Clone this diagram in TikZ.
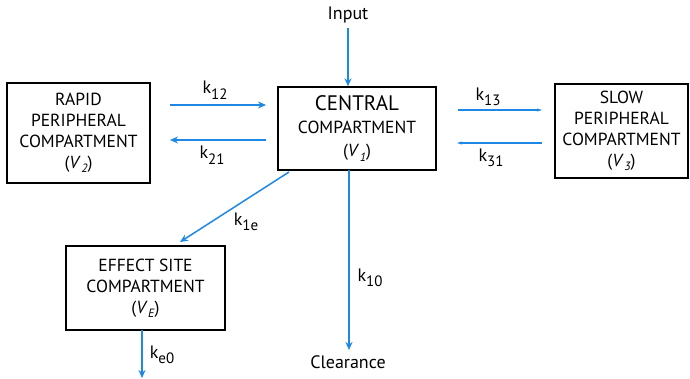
\documentclass[tikz,border=0pt]{standalone}
\usepackage{fontspec}
\setmainfont{PT Sans}
\usetikzlibrary{arrows.meta}
\definecolor{arrowblue}{RGB}{30,136,229}
\newcommand{\vsub}[1]{(\textit{V}\kern0.5pt\raisebox{-0.25em}{\fontsize{12}{12}\selectfont\textit{#1}})}
\newcommand{\ksub}[1]{k\raisebox{-0.3em}{\fontsize{15}{15}\selectfont #1}}
\tikzset{
  comp/.style={draw=black, line width=1.4pt, align=center, inner sep=0pt, font=\fontsize{17.5}{21}\selectfont},
  flow/.style={draw=arrowblue, line width=1.5pt, -{Stealth[length=8pt,width=7pt]}},
  lbl/.style={font=\fontsize{18}{20}\selectfont},
}
\begin{document}
\begin{tikzpicture}[x=1pt,y=-1pt]
\useasboundingbox (0,0) rectangle (690,378);
\node[comp, minimum width=143pt, minimum height=100pt] (rapid) at (78.5,133) {RAPID\\PERIPHERAL\\COMPARTMENT\\\vsub{2}};
\node[comp, minimum width=158pt, minimum height=83pt, font=\fontsize{17.5}{23}\selectfont] (central) at (357,128.5) {{\fontsize{21}{23}\selectfont CENTRAL}\\COMPARTMENT\\\vsub{1}};
\node[comp, minimum width=133pt, minimum height=94pt] (slow) at (621.5,131) {SLOW\\PERIPHERAL\\COMPARTMENT\\\vsub{3}};
\node[comp, minimum width=159pt, minimum height=84pt] (effect) at (145.5,288) {EFFECT SITE\\COMPARTMENT\\\vsub{E}};
\node[lbl] (input) at (348,15) {Input};
\node[lbl] (clear) at (348,362) {Clearance};
\coordinate (inA) at (348,28);
\coordinate (k12a) at (170,105);
\coordinate (k12b) at (266,105);
\coordinate (k21a) at (266,140);
\coordinate (k21b) at (170,140);
\coordinate (k13a) at (458,110);
\coordinate (k13b) at (542,110);
\coordinate (k31a) at (542,143);
\coordinate (k31b) at (457,143);
\coordinate (k1ea) at (289,172);
\coordinate (k1eb) at (180,242);
\coordinate (k10a) at (349,170);
\coordinate (k10b) at (349,350);
\coordinate (ke0a) at (142,330);
\coordinate (ke0b) at (142,378);
\draw[flow] (inA) -- (central.north -| inA);
\draw[flow] (k12a) -- (k12b);
\draw[flow] (k21a) -- (k21b);
\draw[flow, -{Stealth[length=5pt,width=3pt]}] (k13a) -- (k13b);
\draw[flow, -{Stealth[length=5pt,width=3pt]}] (k31a) -- (k31b);
\draw[flow] (k1ea) -- (k1eb);
\draw[flow] (k10a) -- (k10b);
\draw[flow] (ke0a) -- (ke0b);
\node[lbl] at (215,90) {\ksub{12}};
\node[lbl] at (212,155) {\ksub{21}};
\node[lbl] at (488,97) {\ksub{13}};
\node[lbl] at (491,158) {\ksub{31}};
\node[lbl] at (246,222) {\ksub{1e}};
\node[lbl] at (370,278) {\ksub{10}};
\node[lbl] at (162,355) {\ksub{e0}};
\end{tikzpicture}
\end{document}
